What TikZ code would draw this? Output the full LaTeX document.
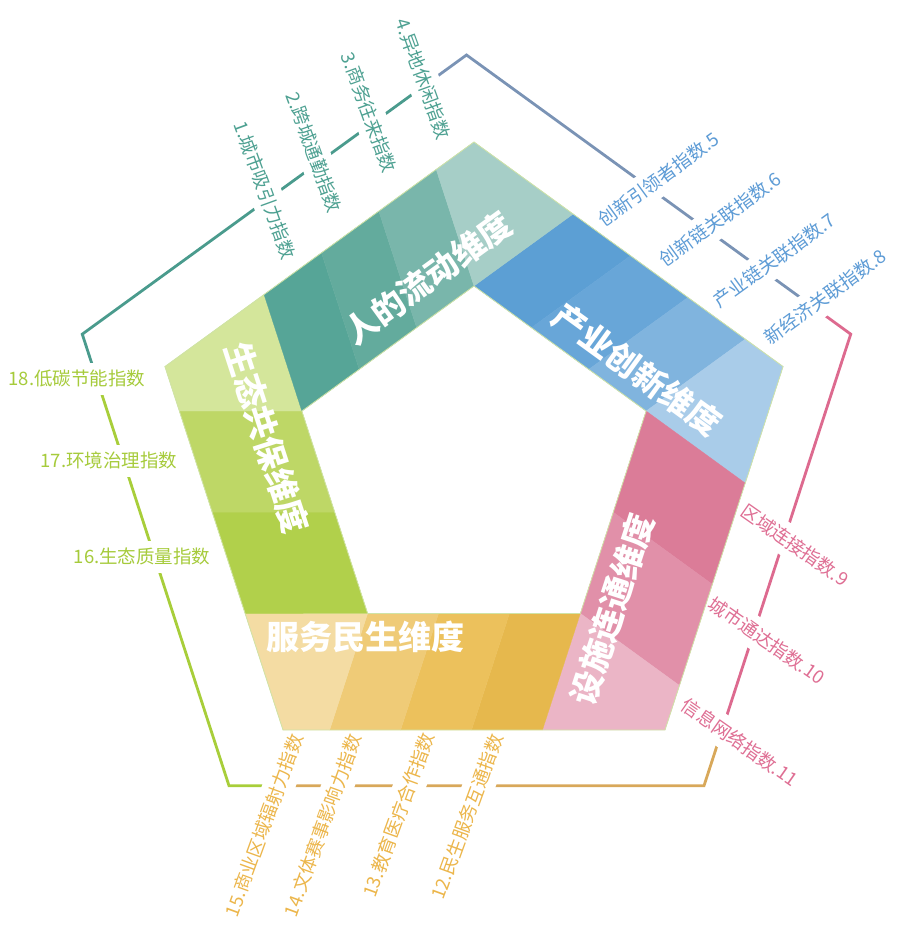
\documentclass[tikz,border=0pt]{standalone}
\usepackage{fontspec}
\newfontfamily\cjk{Noto Sans CJK SC}
\usetikzlibrary{calc}
% band strip colours (start -> end)
\definecolor{b1}{HTML}{5C9FD4}\definecolor{b2}{HTML}{68A6D8}\definecolor{b3}{HTML}{80B4DE}\definecolor{b4}{HTML}{A9CCE9}
\definecolor{p1}{HTML}{DB7C98}\definecolor{p2}{HTML}{E190A9}\definecolor{p3}{HTML}{EBB5C6}
\definecolor{y1}{HTML}{E6B84D}\definecolor{y2}{HTML}{ECC15C}\definecolor{y3}{HTML}{EFCB77}\definecolor{y4}{HTML}{F4DCA3}
\definecolor{g1}{HTML}{B1D04B}\definecolor{g2}{HTML}{BED766}\definecolor{g3}{HTML}{D4E69B}
\definecolor{t1}{HTML}{56A597}\definecolor{t2}{HTML}{63AB9D}\definecolor{t3}{HTML}{79B6AB}\definecolor{t4}{HTML}{A6CEC7}
% frame line colours
\definecolor{lteal}{HTML}{4A9B8D}\definecolor{lblue}{HTML}{7A93B5}\definecolor{lpink}{HTML}{DD6A8F}
\definecolor{lyellow}{HTML}{D8A85A}\definecolor{lgreen}{HTML}{A8CE3A}
% label text colours
\definecolor{xteal}{HTML}{4EA192}\definecolor{xblue}{HTML}{5E9CD6}\definecolor{xpink}{HTML}{DF6F94}
\definecolor{xyellow}{HTML}{ECB64B}\definecolor{xgreen}{HTML}{A6CB3B}
\definecolor{edgec}{HTML}{CFE3A6}
\tikzset{
  idxlabel/.style={fill=white, inner xsep=1pt, inner ysep=7pt, text height=15.5pt, text depth=2.5pt,
    font=\cjk\fontsize{18.5}{18.5}\selectfont},
  dimtitle/.style={text=white, inner sep=0pt, font=\cjk\bfseries\fontsize{33}{33}\selectfont},
  framelinestyle/.style={line width=2.8pt, line cap=butt, line join=miter},
  ringedge/.style={draw=edgec, line width=0.8pt, line join=miter},
}
\begin{document}
\begin{tikzpicture}[x=1pt,y=1pt]
\useasboundingbox (0,0) rectangle (921,935);
% ---------- geometry of the ring ----------
\coordinate (O) at (474,468);
\foreach \i/\a in {1/90,2/18,3/-54,4/-126,5/162}{
  \coordinate (P\i) at ($(O)+(\a:325)$);
  \coordinate (Q\i) at ($(O)+(\a:181)$);
}
\foreach \i/\a in {1/68.6,2/-3.4,3/-75.4,4/-147.4,5/140.6}
  \coordinate (S\i) at ($(O)+(\a:271.7)$);
% ---------- outer frame ----------
\coordinate (Ob) at (466.5,476);
\foreach \i/\a in {1/90,2/18,3/-54,4/-126,5/162}
  \coordinate (C\i) at ($(Ob)+(\a:404)$);
\coordinate (B1) at ($(C1)!0.9006!(C2)$);
\coordinate (B2) at ($(C2)!0.8775!(C3)$);
\coordinate (B3) at ($(C3)!0.9!(C4)$);
\coordinate (B4) at ($(C4)!0.8997!(C5)$);
\coordinate (B5) at ($(C5)!0.892!(C1)$);
\draw[framelinestyle, draw=lblue]   (B5) -- (C1) -- (B1);
\draw[framelinestyle, draw=lpink]   (B1) -- (C2) -- (B2);
\draw[framelinestyle, draw=lyellow] (B2) -- (C3) -- (B3);
\draw[framelinestyle, draw=lgreen]  (B3) -- (C4) -- (B4);
\draw[framelinestyle, draw=lteal]   (B4) -- (C5) -- (B5);
% label crossing points
\coordinate (G5) at ($(C1)!0.474!(C2)$);
\coordinate (G6) at ($(C1)!0.625!(C2)$);
\coordinate (G7) at ($(C1)!0.769!(C2)$);
\coordinate (G8) at (B1);
\coordinate (G9) at ($(C2)!0.452!(C3)$);
\coordinate (G10) at ($(C2)!0.66!(C3)$);
\coordinate (G11) at (B2);
\coordinate (G12) at ($(C3)!0.474!(C4)$);
\coordinate (G13) at ($(C3)!0.62!(C4)$);
\coordinate (G14) at ($(C3)!0.771!(C4)$);
\coordinate (G15) at ($(C3)!0.895!(C4)$);
\coordinate (G16) at ($(C4)!0.507!(C5)$);
\coordinate (G17) at ($(C4)!0.719!(C5)$);
\coordinate (G18) at (B4);
\coordinate (G1) at ($(C5)!0.483!(C1)$);
\coordinate (G2) at ($(C5)!0.612!(C1)$);
\coordinate (G3) at ($(C5)!0.755!(C1)$);
\coordinate (G4) at (B5);
% ---------- index labels ----------
\node[idxlabel, text=xteal, rotate=-70, anchor=east] (n1) at ($(G1)+(-70:64)$) {1.城市吸引力指数};
\node[idxlabel, text=xteal, rotate=-70, anchor=east] (n2) at ($(G2)+(-70:53)$) {2.跨城通勤指数};
\node[idxlabel, text=xteal, rotate=-70, anchor=east] (n3) at ($(G3)+(-70:53)$) {3.商务往来指数};
\node[idxlabel, text=xteal, rotate=-70, anchor=east] (n4) at ($(G4)+(-70:58)$) {4.异地休闲指数};
\node[idxlabel, text=xblue, rotate=36, anchor=west] (n5) at ($(G5)+(216:61)$) {创新引领者指数.5};
\node[idxlabel, text=xblue, rotate=36, anchor=west] (n6) at ($(G6)+(216:57)$) {创新链关联指数.6};
\node[idxlabel, text=xblue, rotate=36, anchor=west] (n7) at ($(G7)+(216:58.5)$) {产业链关联指数.7};
\node[idxlabel, text=xblue, rotate=36, anchor=west] (n8) at ($(G8)+(216:58)$) {新经济关联指数.8};
\node[idxlabel, text=xpink, rotate=-35, anchor=west] (n9) at ($(G9)+(145:52)$) {区域连接指数.9};
\node[idxlabel, text=xpink, rotate=-35, anchor=west] (n10) at ($(G10)+(145:54)$) {城市通达指数.10};
\node[idxlabel, text=xpink, rotate=-35, anchor=west] (n11) at ($(G11)+(145:48)$) {信息网络指数.11};
\node[idxlabel, text=xyellow, rotate=70, anchor=east] (n12) at ($(G12)+(70:55)$) {12.民生服务互通指数};
\node[idxlabel, text=xyellow, rotate=70, anchor=east] (n13) at ($(G13)+(70:57)$) {13.教育医疗合作指数};
\node[idxlabel, text=xyellow, rotate=70, anchor=east] (n14) at ($(G14)+(70:55)$) {14.文体赛事影响力指数};
\node[idxlabel, text=xyellow, rotate=70, anchor=east] (n15) at ($(G15)+(70:55)$) {15.商业区域辐射力指数};
\node[idxlabel, text=xgreen, anchor=east] (n16) at ($(G16)+(57,0)$) {16.生态质量指数};
\node[idxlabel, text=xgreen, anchor=east] (n17) at ($(G17)+(55,0)$) {17.环境治理指数};
\node[idxlabel, text=xgreen, anchor=east] (n18) at ($(G18)+(49.5,0)$) {18.低碳节能指数};
% ---------- bands ----------
\foreach \i/\j/\n/\c in {1/2/4/b,2/3/3/p,3/4/4/y,4/5/3/g,5/1/4/t}{
  \pgfmathtruncatemacro\m{\n-1}
  \foreach \k in {0,...,\m}{
    \pgfmathsetmacro\f{\k/\m}
    \coordinate (D\i-\k) at ($(Q\i)!\f!(Q\j)$);
    \coordinate (E\i-\k) at ($(S\i)+(D\i-\k)-(Q\i)$);
  }
  \foreach \k in {1,...,\m}{
    \pgfmathtruncatemacro\kk{\k-1}
    \fill[fill=\c\k, draw=\c\k, line width=0.3pt] (E\i-\kk) -- (E\i-\k) -- (D\i-\k) -- (D\i-\kk) -- cycle;
  }
  \fill[fill=\c\n, draw=\c\n, line width=0.3pt] (E\i-\m) -- (P\j) -- (S\j) -- (Q\j) -- cycle;
}
\draw[ringedge] (P1) -- (P2) -- (P3) -- (P4) -- (P5) -- cycle;
\draw[ringedge] (Q1) -- (Q2) -- (Q3) -- (Q4) -- (Q5) -- cycle;
% ---------- dimension titles ----------
\node[dimtitle, rotate=36]  (d5) at (428,657) {人的流动维度};
\node[dimtitle, rotate=-36] (d1) at (637,565) {产业创新维度};
\node[dimtitle, rotate=72]  (d2) at (612,326) {设施连通维度};
\node[dimtitle]             (d3) at (365,298) {服务民生维度};
\node[dimtitle, rotate=-72] (d4) at (267,497) {生态共保维度};
\end{tikzpicture}
\end{document}
